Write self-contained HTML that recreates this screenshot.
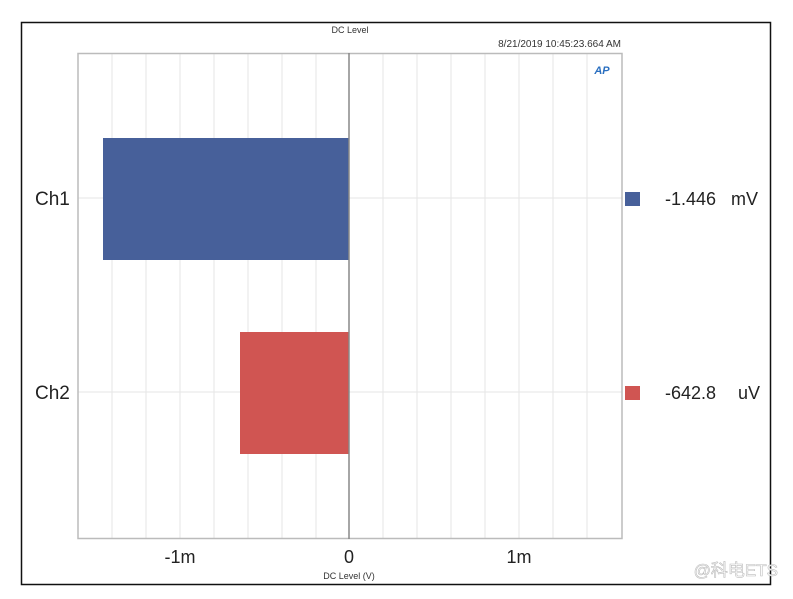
<!DOCTYPE html>
<html><head><meta charset="utf-8"><style>
body{margin:0;background:#fff;}
svg{display:block;font-family:"Liberation Sans","DejaVu Sans",sans-serif;}
</style></head><body>
<svg width="793" height="599" xmlns="http://www.w3.org/2000/svg">
<rect x="0" y="0" width="793" height="599" fill="#fff"/>
<rect x="21.5" y="22.5" width="749" height="562" fill="#fff" stroke="#111" stroke-width="1.5"/>
<text x="350" y="33" font-size="9" text-anchor="middle" fill="#333">DC Level</text>
<text x="621" y="47" font-size="10" text-anchor="end" fill="#333">8/21/2019 10:45:23.664 AM</text>
<g stroke="#e6e6e6" stroke-width="1">
<line x1="112" y1="54" x2="112" y2="538"/><line x1="146" y1="54" x2="146" y2="538"/>
<line x1="180" y1="54" x2="180" y2="538"/><line x1="214" y1="54" x2="214" y2="538"/>
<line x1="248" y1="54" x2="248" y2="538"/><line x1="282" y1="54" x2="282" y2="538"/>
<line x1="316" y1="54" x2="316" y2="538"/><line x1="383" y1="54" x2="383" y2="538"/>
<line x1="417" y1="54" x2="417" y2="538"/><line x1="451" y1="54" x2="451" y2="538"/>
<line x1="485" y1="54" x2="485" y2="538"/><line x1="519" y1="54" x2="519" y2="538"/>
<line x1="553" y1="54" x2="553" y2="538"/><line x1="587" y1="54" x2="587" y2="538"/>
<line x1="78" y1="198" x2="622" y2="198"/><line x1="78" y1="392" x2="622" y2="392"/>
</g>
<rect x="103" y="138" width="246" height="122" fill="#47609a"/>
<rect x="240" y="332" width="109" height="122" fill="#d05552"/>
<rect x="78" y="53.5" width="544" height="485" fill="none" stroke="#bbb" stroke-width="1.5"/>
<line x1="349" y1="53" x2="349" y2="539" stroke="#888" stroke-width="1.5"/>
<text x="602" y="74" font-size="11" font-weight="bold" font-style="italic" fill="#2a6fc0" text-anchor="middle">AP</text>
<text x="35" y="205" font-size="19" fill="#222">Ch1</text>
<text x="35" y="399" font-size="19" fill="#222">Ch2</text>
<text x="180" y="563" font-size="18" text-anchor="middle" fill="#222">-1m</text>
<text x="349" y="563" font-size="18" text-anchor="middle" fill="#222">0</text>
<text x="519" y="563" font-size="18" text-anchor="middle" fill="#222">1m</text>
<text x="349" y="579" font-size="9" text-anchor="middle" fill="#333">DC Level (V)</text>
<rect x="625" y="192" width="15" height="14" fill="#47609a"/>
<rect x="625" y="386" width="15" height="14" fill="#d05552"/>
<text x="665" y="205" font-size="18" fill="#222">-1.446</text>
<text x="731" y="205" font-size="18" fill="#222">mV</text>
<text x="665" y="399" font-size="18" fill="#222">-642.8</text>
<text x="738" y="399" font-size="18" fill="#222">uV</text>
<text x="778" y="576" font-size="17" text-anchor="end" fill="#fff" stroke="#bbb" stroke-width="0.6" font-family="'Liberation Sans','Noto Sans CJK SC',sans-serif">@科电ETS</text>
</svg>
</body></html>
